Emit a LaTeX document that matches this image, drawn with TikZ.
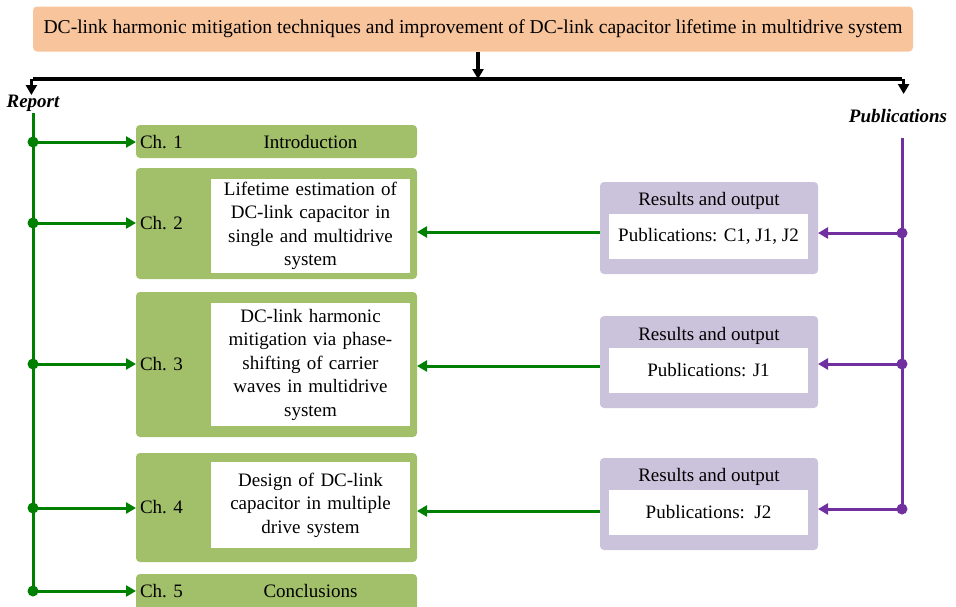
\documentclass[tikz,border=0pt]{standalone}
\usepackage{fontspec}
\setmainfont{Liberation Serif}
\usetikzlibrary{arrows.meta}
\definecolor{peach}{HTML}{F8C49C}
\definecolor{chgreen}{HTML}{A2BF6A}
\definecolor{lgreen}{HTML}{008000}
\definecolor{pfill}{HTML}{CBC2DB}
\definecolor{pline}{HTML}{7030A0}
\begin{document}
\begin{tikzpicture}[x=1pt,y=-1pt,
  every node/.style={inner sep=0pt,outer sep=0pt,font=\fontsize{19}{23.5}\selectfont},
  titlebox/.style={fill=peach,rounded corners=4pt,minimum width=880pt,minimum height=45pt,font=\fontsize{19.6}{23.5}\selectfont},
  chbox/.style={fill=chgreen,rounded corners=4pt,anchor=north west,minimum width=281pt},
  wbox/.style={fill=white,anchor=north west,minimum width=199pt,text width=199pt,align=center},
  pbox/.style={fill=pfill,rounded corners=4pt,anchor=north west,minimum width=218pt,minimum height=92pt},
  pwbox/.style={fill=white,anchor=north west,minimum width=199pt,minimum height=45pt},
  blk/.style={draw=black,line width=3.2pt},
  blkarrow/.style={blk,-{Triangle[length=10pt,width=11pt]}},
  garrow/.style={draw=lgreen,line width=3pt,-{Triangle[length=10pt,width=11pt]}},
  parrow/.style={draw=pline,line width=3pt,-{Triangle[length=10pt,width=11pt]}},
  gdot/.style={fill=lgreen,circle,minimum size=11pt},
  pdot/.style={fill=pline,circle,minimum size=11pt},
  side/.style={font=\fontsize{19}{23.5}\selectfont\bfseries\itshape}
]
\useasboundingbox (0,0) rectangle (956,606);
\begin{scope}
\clip (0,0) rectangle (956,606);
% title
\node[titlebox] (title) at (473,29) {DC-link harmonic mitigation techniques and improvement of DC-link capacitor lifetime in multidrive system};
\coordinate (tj) at (478,79);
\coordinate (hl) at (33,79);
\coordinate (hr) at (902,79);
\draw[blkarrow] (title.south -| tj) -- (tj);
\draw[blk] (hl) -- (hr);
\node[side] (report) at (33,103) {Report};
\node[side] (pubs) at (898,116) {Publications};
\draw[blkarrow] ([xshift=-1.6pt]hl) -- ++(0,16) coordinate (rt);
\draw[blkarrow] ([xshift=1.6pt]hr) -- ++(0,15) coordinate (pt);

% chapter boxes
\node[chbox,minimum height=33pt] (c1) at (136,125) {};
\node[chbox,minimum height=111pt] (c2) at (136,168) {};
\node[chbox,minimum height=145pt] (c3) at (136,292) {};
\node[chbox,minimum height=109pt] (c4) at (136,453) {};
\node[chbox,minimum height=40pt] (c5) at (136,574) {};

\node[anchor=west] (l1) at (140,142) {Ch. 1};
\node[anchor=west] (l2) at (140,223.5) {Ch. 2};
\node[anchor=west] (l3) at (140,364.5) {Ch. 3};
\node[anchor=west] (l4) at (140,507.5) {Ch. 4};
\node[anchor=west] (l5) at (140,591) {Ch. 5};
\node (t1) at (310.5,142) {Introduction};
\node (t5) at (310.5,591) {Conclusions};

\node[wbox,minimum height=94pt] (w2) at (211,179) {Lifetime estimation of\\DC-link capacitor in\\single and multidrive\\system};
\node[wbox,minimum height=123pt] (w3) at (211,303) {DC-link harmonic\\mitigation via phase-\\shifting of carrier\\waves in multidrive\\system};
\node[wbox,minimum height=86pt] (w4) at (211,462) {Design of DC-link\\capacitor in multiple\\drive system};

% publication boxes
\node[pbox] (p1) at (600,182) {};
\node[pbox] (p2) at (600,316) {};
\node[pbox] (p3) at (600,458) {};
\node (r1) at (709,201) {Results and output};
\node (r2) at (709,335.5) {Results and output};
\node (r3) at (709,477) {Results and output};
\node[pwbox] (q1) at (609,214) {Publications: C1, J1, J2};
\node[pwbox] (q2) at (609,348) {Publications: J1};
\node[pwbox] (q3) at (609,490) {Publications:\ \ J2};

% left trunk
\coordinate (ltop) at (33,113);
\node[gdot] (d1) at (33,142) {};
\node[gdot] (d2) at (33,223) {};
\node[gdot] (d3) at (33,364) {};
\node[gdot] (d4) at (33,508) {};
\node[gdot] (d5) at (33,591) {};
\draw[draw=lgreen,line width=3pt] (ltop) -- (d5.center);
\draw[garrow] (d1.center) -- (c1.west |- d1);
\draw[garrow] (d2.center) -- (c2.west |- d2);
\draw[garrow] (d3.center) -- (c3.west |- d3);
\draw[garrow] (d4.center) -- (c4.west |- d4);
\draw[garrow] (d5.center) -- (c5.west |- d5);

% right trunk
\coordinate (rtop) at (902,138);
\node[pdot] (e1) at (902,233) {};
\node[pdot] (e2) at (902,364) {};
\node[pdot] (e3) at (902,509) {};
\draw[draw=pline,line width=3pt] (rtop) -- (e3.center);
\draw[parrow] (e1.center) -- (p1.east |- e1);
\draw[parrow] (e2.center) -- (p2.east |- e2);
\draw[parrow] (e3.center) -- (p3.east |- e3);

% results to chapters
\coordinate (y2) at (0,232);
\coordinate (y3) at (0,366);
\coordinate (y4) at (0,511);
\draw[garrow] (p1.west |- y2) -- (c2.east |- y2);
\draw[garrow] (p2.west |- y3) -- (c3.east |- y3);
\draw[garrow] (p3.west |- y4) -- (c4.east |- y4);
\end{scope}
\end{tikzpicture}
\end{document}
